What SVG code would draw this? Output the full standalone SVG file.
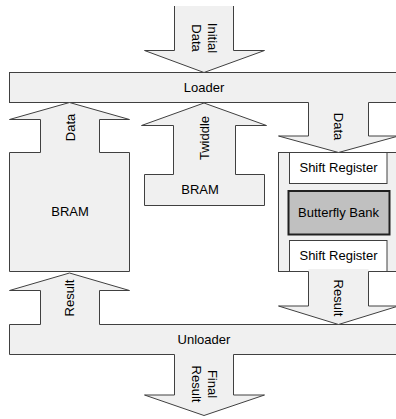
<svg xmlns="http://www.w3.org/2000/svg" width="396" height="419" viewBox="0 0 396 419">
<style>
.sh{fill:#f0f0f0;stroke:#404040;stroke-width:1;stroke-linejoin:miter}
.fo{fill:#f0f0f0;stroke:none}
.ln{fill:none;stroke:#404040;stroke-width:1}
.wb{fill:#ffffff;stroke:#404040;stroke-width:1}
.bb{fill:#c0c0c0;stroke:#202020;stroke-width:2}
text{font-family:"Liberation Sans",Arial,sans-serif;font-size:13px;fill:#000}
.c{text-anchor:middle}
</style>
<rect width="396" height="419" fill="#ffffff"/>
<g id="loader">
<rect class="sh" x="9.5" y="72.5" width="400" height="30"/>
<text class="c" x="204" y="92">Loader</text>
</g>
<g id="bram-data">
<path class="sh" d="M69.5,102.5 L129.5,119.5 L99.5,119.5 L99.5,152.5 L129.5,152.5 L129.5,271.5 L9.5,271.5 L9.5,152.5 L40.5,152.5 L40.5,119.5 L9.5,119.5 Z"/>
<text class="c" x="70" y="215.5">BRAM</text>
</g>
<g id="bram-twiddle">
<path class="sh" d="M204,103 L266.5,125.5 L235.5,125.5 L235.5,174.5 L264.5,174.5 L264.5,205.5 L144.5,205.5 L144.5,174.5 L173.5,174.5 L173.5,125.5 L141.5,125.5 Z"/>
<text class="c" x="200" y="194">BRAM</text>
</g>
<g id="pipeline">
<rect class="sh" x="278.5" y="152.5" width="130" height="119"/>
<g id="shift-register-1">
<rect class="wb" x="289.5" y="152.5" width="97.5" height="31"/>
<text class="c" x="338.5" y="171.5">Shift Register</text>
</g>
<g id="butterfly-bank">
<rect class="bb" x="288.5" y="191" width="101" height="43.5"/>
<text class="c" x="338.5" y="216.5">Butterfly Bank</text>
</g>
<g id="shift-register-2">
<rect class="wb" x="289.5" y="240.5" width="97.5" height="31"/>
<text class="c" x="338.5" y="260">Shift Register</text>
</g>
</g>
<g id="unloader">
<path class="sh" d="M69.5,273 L129.5,290.5 L99.5,290.5 L99.5,324.5 L410,324.5 L410,354.5 L233.5,354.5 L233.5,395 L264.5,395 L204,415.5 L144.5,395 L174.5,395 L174.5,354.5 L9.5,354.5 L9.5,324.5 L40.5,324.5 L40.5,290.5 L9.5,290.5 Z"/>
<text class="c" x="204" y="344">Unloader</text>
</g>
<g id="connectors">
<g id="initial-data">
<path class="fo" d="M174.5,6 L233.5,6 L233.5,50.5 L264.5,50.5 L204,72.5 L144.5,50.5 L174.5,50.5 Z"/>
<path class="ln" d="M174.5,6 L174.5,50.5 L144.5,50.5 L204,72.5 L264.5,50.5 L233.5,50.5 L233.5,6"/>
</g>
<g id="data-to-pipeline">
<path class="fo" d="M308.5,102 L368.5,102 L368.5,136 L398.5,136 L338.5,152.5 L278.5,136 L308.5,136 Z"/>
<path class="ln" d="M308.5,102.5 L308.5,136 L278.5,136 L338.5,152.5 L398.5,136 L368.5,136 L368.5,102.5"/>
</g>
<g id="result-from-pipeline">
<path class="fo" d="M308.5,269 L368.5,269 L368.5,306 L398.5,306 L338.5,324.5 L278.5,306 L308.5,306 Z"/>
<path class="ln" d="M308.5,271.5 L308.5,306 L278.5,306 L338.5,324.5 L398.5,306 L368.5,306 L368.5,271.5"/>
</g>
</g>
<g id="labels">
<text class="c" transform="translate(208,38) rotate(90)">Initial</text>
<text class="c" transform="translate(192,38) rotate(90)">Data</text>
<text class="c" transform="translate(74.5,127.5) rotate(-90)">Data</text>
<text class="c" transform="translate(208.5,138) rotate(-90)">Twiddle</text>
<text class="c" transform="translate(334,126.5) rotate(90)">Data</text>
<text class="c" transform="translate(74,298) rotate(-90)">Result</text>
<text class="c" transform="translate(334,298) rotate(90)">Result</text>
<text class="c" transform="translate(208,384) rotate(90)">Final</text>
<text class="c" transform="translate(192,384) rotate(90)">Result</text>
</g>
</svg>
